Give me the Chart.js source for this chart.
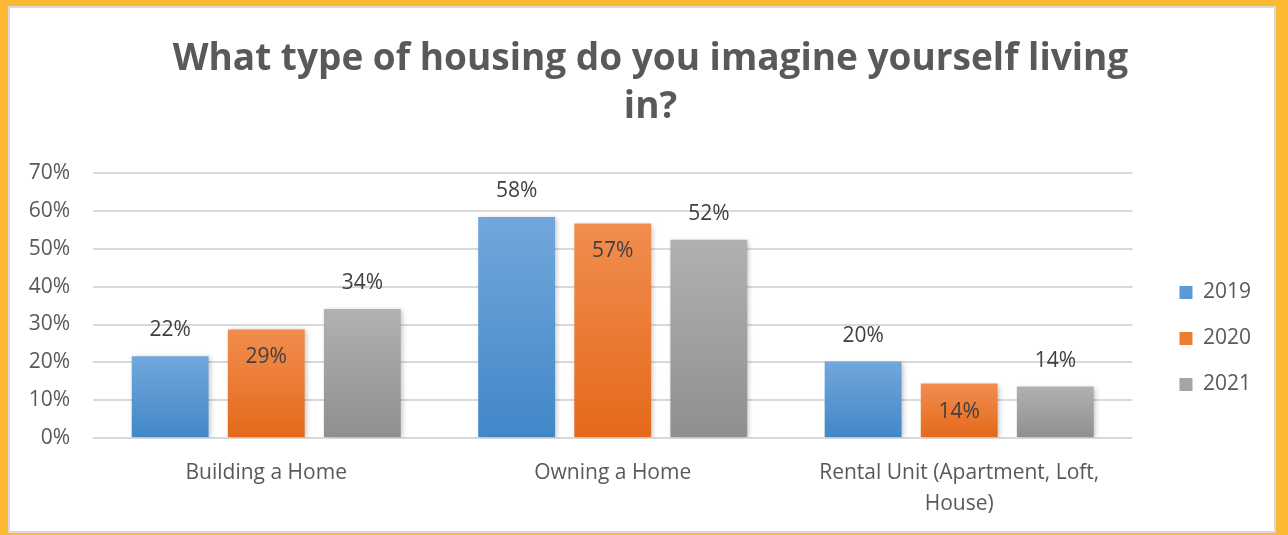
<!DOCTYPE html>
<html lang="en">
<head>
<meta charset="UTF-8" />
<title>Housing</title>
<script src="https://cdn.jsdelivr.net/npm/chart.js"></script>
<style>
  html, body { margin: 0; padding: 0; }
  body { width: 1288px; height: 535px; background: #fdb933; position: relative; overflow: hidden; }
  #frame { position: absolute; left: 8px; top: 6px; width: 1268px; height: 527px; box-sizing: border-box; border: 2px solid #d9d9d9; background: #fff; }
  canvas { display: block; }
</style>
</head>
<body>
<div id="frame"><canvas id="myChart" width="1264" height="523"></canvas></div>
<script>
const categories = [['Building a Home'], ['Owning a Home'], ['Rental Unit (Apartment, Loft,', 'House)']];
const years = ['2019', '2020', '2021'];
const values2019 = [0.216, 0.584, 0.202];
const values2020 = [0.287, 0.567, 0.144];
const values2021 = [0.341, 0.524, 0.136];
const yTicks = [0, 0.1, 0.2, 0.3, 0.4, 0.5, 0.6, 0.7];

const FONT = "'Open Sans', sans-serif";
const TEXT = '#595959';

const palette = [
  { top: '#72a7dc', bottom: '#4187c8', key: '#5b9bd5' },
  { top: '#f18d4f', bottom: '#e4691a', key: '#ed7d31' },
  { top: '#b1b1b1', bottom: '#8f8f8f', key: '#a5a5a5' }
];

function barFill(i) {
  return function (ctx) {
    const chart = ctx.chart;
    if (!chart.chartArea || ctx.type !== 'data') return palette[i].key;
    const y = chart.scales.y;
    const top = y.getPixelForValue(ctx.raw);
    const bottom = y.getPixelForValue(0);
    const g = chart.ctx.createLinearGradient(0, top, 0, bottom);
    g.addColorStop(0, palette[i].top);
    g.addColorStop(1, palette[i].bottom);
    return g;
  };
}

const seriesValues = [values2019, values2020, values2021];

const data = {
  labels: categories,
  datasets: years.map((yr, i) => ({
    label: yr,
    data: seriesValues[i],
    backgroundColor: barFill(i),
    borderWidth: 0,
    categoryPercentage: 0.832,
    barPercentage: 0.8
  }))
};

// bar shadows, value labels, legend/title nudge
const barExtras = {
  id: 'barExtras',
  afterLayout(chart) {
    const lg = chart.legend;
    if (lg) {
      lg.left += 22; lg.right += 22;
      lg.top += 60; lg.bottom += 60;
    }
    const tb = chart.titleBlock;
    if (tb) {
      tb.left += 26; tb.right += 26;
      tb.top += 2; tb.bottom += 2;
    }
  },
  beforeDatasetsDraw(chart) {
    const c = chart.ctx;
    c.save();
    c.shadowColor = 'rgba(0,0,0,0.22)';
    c.shadowBlur = 5;
    c.shadowOffsetX = 2;
    c.shadowOffsetY = 1;
  },
  afterDatasetsDraw(chart) {
    const c = chart.ctx;
    c.restore();
    c.save();
    c.font = '21px ' + FONT;
    c.fillStyle = '#404040';
    c.textAlign = 'center';
    c.textBaseline = 'middle';
    chart.data.datasets.forEach((ds, i) => {
      chart.getDatasetMeta(i).data.forEach((bar, j) => {
        const txt = Math.round(ds.data[j] * 100) + '%';
        const y = i === 1 ? bar.y + 28 : bar.y - 26;
        c.fillText(txt, bar.x, y);
      });
    });
    c.restore();
  }
};

const config = {
  type: 'bar',
  data: data,
  options: {
    responsive: false,
    animation: false,
    devicePixelRatio: 1,
    layout: { padding: { left: 0, right: 35, top: 18, bottom: 0 } },
    plugins: {
      title: {
        display: true,
        text: ['What type of housing do you imagine yourself living', 'in?'],
        color: TEXT,
        font: { family: FONT, size: 37, weight: 'bold', lineHeight: 1.3 },
        padding: { top: 7, bottom: 44 }
      },
      legend: {
        position: 'right',
        align: 'center',
        labels: {
          color: TEXT,
          font: { family: FONT, size: 21 },
          boxWidth: 13,
          boxHeight: 13,
          padding: 25,
          generateLabels(chart) {
            return chart.data.datasets.map((ds, i) => ({
              text: ds.label,
              fillStyle: palette[i].key,
              strokeStyle: palette[i].key,
              lineWidth: 0,
              fontColor: TEXT,
              datasetIndex: i
            }));
          }
        }
      },
      tooltip: { enabled: false }
    },
    scales: {
      x: {
        afterFit(axis) { axis.height = 93; },
        grid: { display: false },
        border: { display: false },
        ticks: { color: TEXT, font: { family: FONT, size: 21, lineHeight: 1.45 }, padding: 12, maxRotation: 0 }
      },
      y: {
        min: 0,
        max: 0.7,
        afterFit(axis) { axis.width = 83; },
        afterBuildTicks(axis) { axis.ticks = yTicks.map(v => ({ value: v })); },
        grid: { color: '#d9d9d9', lineWidth: 2, drawTicks: false },
        border: { display: false },
        ticks: {
          color: TEXT,
          font: { family: FONT, size: 21 },
          padding: 23,
          callback: v => Math.round(v * 100) + '%'
        }
      }
    }
  },
  plugins: [barExtras]
};

const myChart = new Chart(document.getElementById('myChart'), config);
</script>
</body>
</html>
